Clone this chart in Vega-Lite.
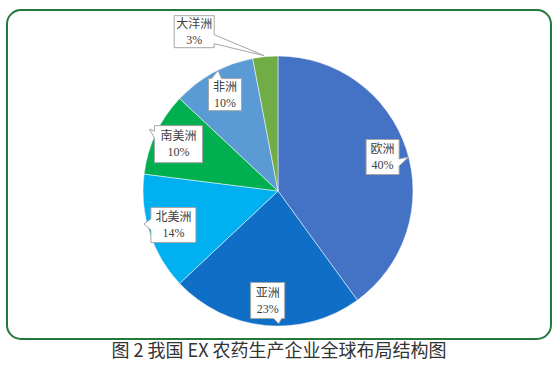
{
  "$schema": "https://vega.github.io/schema/vega-lite/v6.json",
  "width": 544,
  "height": 329,
  "autosize": {"type": "none"},
  "padding": {"left": 7, "top": 10, "right": 7, "bottom": 33},
  "background": "white",
  "config": {"view": {"stroke": "#23793a", "strokeWidth": 2, "cornerRadius": 14}},
  "title": {
    "text": "图 2 我国 EX 农药生产企业全球布局结构图",
    "orient": "bottom",
    "anchor": "middle",
    "font": "Noto Sans CJK SC",
    "fontSize": 18,
    "fontWeight": "normal",
    "color": "#333333",
    "offset": 4
  },
  "data": {
    "values": [
      {"idx": 1, "name": "欧洲", "value": 40},
      {"idx": 2, "name": "亚洲", "value": 23},
      {"idx": 3, "name": "北美洲", "value": 14},
      {"idx": 4, "name": "南美洲", "value": 10},
      {"idx": 5, "name": "非洲", "value": 10},
      {"idx": 6, "name": "大洋洲", "value": 3}
    ]
  },
  "layer": [
    {
      "mark": {"type": "arc", "outerRadius": 135, "stroke": "white", "strokeWidth": 0.5},
      "encoding": {
        "theta": {"field": "value", "type": "quantitative", "stack": true},
        "order": {"field": "idx", "type": "quantitative"},
        "color": {
          "field": "name",
          "type": "nominal",
          "scale": {
            "domain": ["欧洲", "亚洲", "北美洲", "南美洲", "非洲", "大洋洲"],
            "range": ["#4472C4", "#0F6FC6", "#00B0F0", "#00B050", "#5B9BD5", "#70AD47"]
          },
          "legend": null
        },
        "x": {"datum": 0, "type": "quantitative", "scale": {"domain": [-271, 273], "nice": false, "zero": false}, "axis": null},
        "y": {"datum": 0, "type": "quantitative", "scale": {"domain": [-148, 181], "nice": false, "zero": false}, "axis": null}
      }
    },
    {
      "transform": [
        {"window": [{"op": "sum", "field": "value", "as": "cum"}], "sort": [{"field": "idx"}], "frame": [null, 0]},
        {"joinaggregate": [{"op": "sum", "field": "value", "as": "total"}]},
        {"calculate": "(datum.cum - datum.value / 2) / datum.total * 2 * PI - (datum.value < 5 ? 0.39 : 0)", "as": "ang"},
        {"calculate": "datum.value < 5 ? 180 : 110", "as": "rad"},
        {"calculate": "datum.rad * sin(datum.ang)", "as": "lx"},
        {"calculate": "datum.rad * cos(datum.ang)", "as": "ly"},
        {"calculate": "datum.name + '\\n' + datum.value + '%'", "as": "label"}
      ],
      "layer": [
        {
          "mark": {"type": "point", "filled": true, "fill": "white", "stroke": "#a6a6a6", "strokeWidth": 1, "opacity": 1, "size": 4},
          "encoding": {
            "x": {"field": "lx", "type": "quantitative"},
            "y": {"field": "ly", "type": "quantitative"},
            "shape": {
              "condition": [
                {"test": "datum.name === '欧洲'", "value": "M-16.5,-17.5H16.5V2L26,0L16.5,9V17.5H-16.5Z"},
                {"test": "datum.name === '亚洲'", "value": "M-17,-18H17V18H14L11,23L6,18H-17Z"},
                {"test": "datum.name === '北美洲'", "value": "M-22.5,-17.5H22.5V17.5H-22.5V5L-29.5,-1L-22.5,-6Z"},
                {"test": "datum.name === '南美洲'", "value": "M-24,-18.5H24V18.5H-24V-6L-29,-15L-24,-13Z"},
                {"test": "datum.name === '非洲'", "value": "M-16.5,-16H-13.5L-7,-24L-3.5,-16H16.5V16H-16.5Z"}
              ],
              "value": "M-20,-16H20V3L70,24L20,12V16H-20Z"
            }
          }
        },
        {
          "mark": {"type": "text", "lineBreak": "\n", "font": "Liberation Serif, Noto Sans CJK SC", "fontSize": 12, "color": "#404040", "lineHeight": 16, "baseline": "middle", "dy": -8},
          "encoding": {
            "x": {"field": "lx", "type": "quantitative"},
            "y": {"field": "ly", "type": "quantitative"},
            "text": {"field": "label", "type": "nominal"}
          }
        }
      ]
    }
  ]
}
